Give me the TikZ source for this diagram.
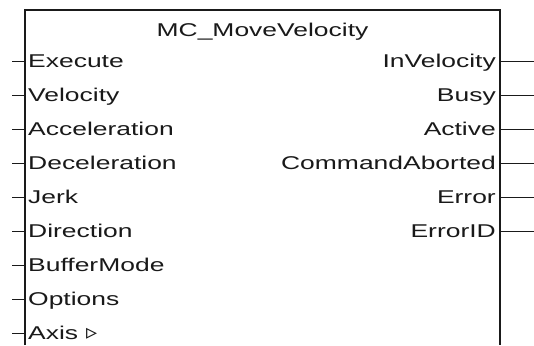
\documentclass[tikz,border=0pt]{standalone}
\usepackage{fontspec}
\setmainfont{Liberation Sans}
\newfontfamily\pinfont[FakeStretch=1.43]{Liberation Sans}
\newfontfamily\symfont{DejaVu Sans}
\definecolor{cLine}{HTML}{1A1A1A}

\begin{document}
\begin{tikzpicture}[
  x=1pt, y=-1pt,
  every node/.style={font=\pinfont\fontsize{18.5}{20}\selectfont, text=black!90, inner ysep=0pt, text height=13pt, text depth=0pt},
  inpin/.style={anchor=west, inner xsep=3pt},
  outpin/.style={anchor=east, inner xsep=4pt},
  stub/.style={draw=cLine, line width=0.9pt},
  frame/.style={draw=cLine, line width=1.4pt},
]

\useasboundingbox (0,0) rectangle (534,345);

% function block frame, open at the bottom
\draw[frame] (25,345) |- (500,10) -- (500,345);
\node (title) at (262.5,29.7) {MC\_MoveVelocity};

% inputs
\node[inpin] (exe) at (25,61) {Execute};
\node[inpin] (vel) at (25,95) {Velocity};
\node[inpin] (acc) at (25,129) {Acceleration};
\node[inpin] (dec) at (25,163) {Deceleration};
\node[inpin] (jerk) at (25,197) {Jerk};
\node[inpin] (dir) at (25,231) {Direction};
\node[inpin] (buf) at (25,265) {BufferMode};
\node[inpin] (opt) at (25,299) {Options};
\node[inpin] (axis) at (25,333) {Axis\hspace{8pt}{\symfont\fontsize{22}{22}\selectfont ▹}};

% outputs
\node[outpin] (inVel) at (500,61) {InVelocity};
\node[outpin] (busy) at (500,95) {Busy};
\node[outpin] (act) at (500,129) {Active};
\node[outpin] (abort) at (500,163) {CommandAborted};
\node[outpin] (err) at (500,197) {Error};
\node[outpin] (errId) at (500,231) {ErrorID};

% free ends of the pin lines
\coordinate (exeL) at (12,61);
\coordinate (velL) at (12,95);
\coordinate (accL) at (12,129);
\coordinate (decL) at (12,163);
\coordinate (jerkL) at (12,197);
\coordinate (dirL) at (12,231);
\coordinate (bufL) at (12,265);
\coordinate (optL) at (12,299);
\coordinate (axisL) at (12,333);
\coordinate (inVelR) at (534,61);
\coordinate (busyR) at (534,95);
\coordinate (actR) at (534,129);
\coordinate (abortR) at (534,163);
\coordinate (errR) at (534,197);
\coordinate (errIdR) at (534,231);

\draw[stub] (exeL) -- (exe.west);
\draw[stub] (velL) -- (vel.west);
\draw[stub] (accL) -- (acc.west);
\draw[stub] (decL) -- (dec.west);
\draw[stub] (jerkL) -- (jerk.west);
\draw[stub] (dirL) -- (dir.west);
\draw[stub] (bufL) -- (buf.west);
\draw[stub] (optL) -- (opt.west);
\draw[stub] (axisL) -- (axis.west);
\draw[stub] (inVel.east) -- (inVelR);
\draw[stub] (busy.east) -- (busyR);
\draw[stub] (act.east) -- (actR);
\draw[stub] (abort.east) -- (abortR);
\draw[stub] (err.east) -- (errR);
\draw[stub] (errId.east) -- (errIdR);

\end{tikzpicture}
\end{document}
